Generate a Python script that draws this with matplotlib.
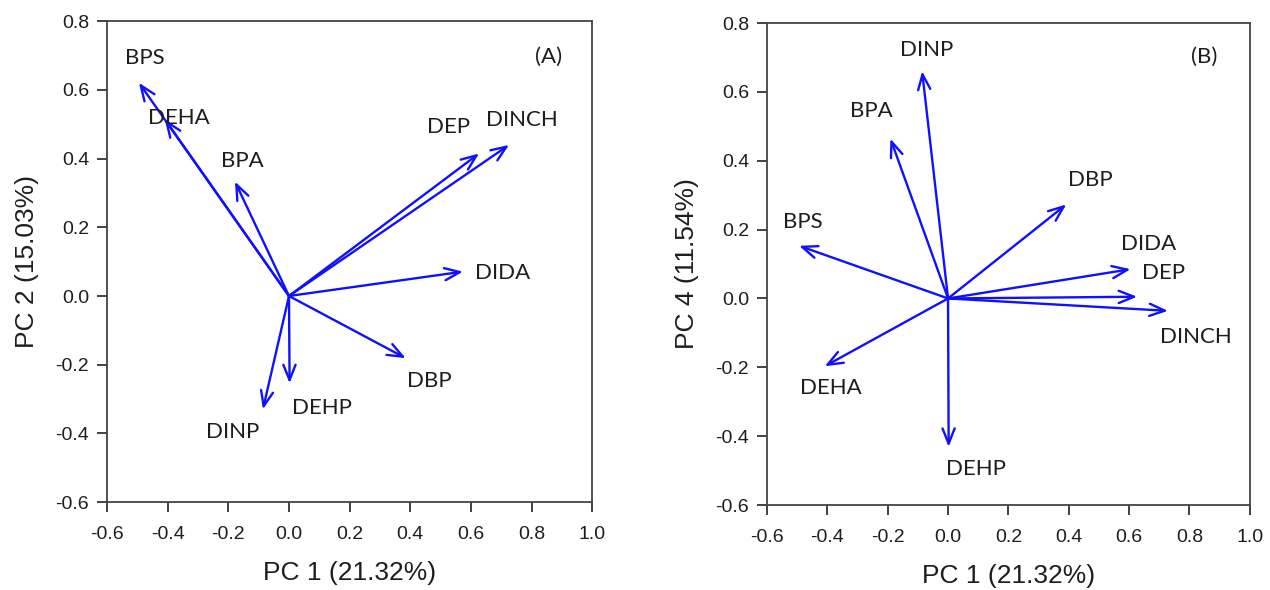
import matplotlib
matplotlib.use('Agg')
import matplotlib.pyplot as plt

# loadings
compounds_a = ['BPS', 'DEHA', 'BPA', 'DEP', 'DINCH', 'DIDA', 'DBP', 'DEHP', 'DINP']
pc1_a = [-0.495, -0.41, -0.178, 0.627, 0.726, 0.574, 0.385, 0.002, -0.086]
pc2_a = [0.621, 0.515, 0.333, 0.415, 0.44, 0.071, -0.181, -0.254, -0.330]

compounds_b = ['DINP', 'BPA', 'BPS', 'DBP', 'DIDA', 'DEP', 'DINCH', 'DEHA', 'DEHP']
pc1_b = [-0.086, -0.191, -0.494, 0.392, 0.605, 0.627, 0.729, -0.409, 0.002]
pc4_b = [0.660, 0.464, 0.153, 0.273, 0.085, 0.005, -0.036, -0.197, -0.431]

# where the names sit (data coords)
label_pos_a = {'BPS': (-0.476, 0.693), 'DEHA': (-0.363, 0.519), 'BPA': (-0.155, 0.394),
               'DEP': (0.527, 0.491), 'DINCH': (0.769, 0.512), 'DIDA': (0.703, 0.068),
               'DBP': (0.464, -0.247), 'DEHP': (0.109, -0.325), 'DINP': (-0.185, -0.397)}
label_pos_b = {'DINP': (-0.072, 0.723), 'BPA': (-0.254, 0.544), 'BPS': (-0.481, 0.221),
               'DBP': (0.470, 0.345), 'DIDA': (0.665, 0.158), 'DEP': (0.715, 0.073),
               'DINCH': (0.823, -0.113), 'DEHA': (-0.389, -0.261), 'DEHP': (0.094, -0.496)}

ticks_x = [-0.6, -0.4, -0.2, 0.0, 0.2, 0.4, 0.6, 0.8, 1.0]
ticks_y = [-0.6, -0.4, -0.2, 0.0, 0.2, 0.4, 0.6, 0.8]

ARROW = '#1010ff'
TEXT = '#1e1e1e'
LABEL_FONT = 'Lato'
TICK_FONT = 'Liberation Sans'


def biplot(ax, names, xs, ys, label_pos, tag, tag_pos, ylabel):
    for name, x, y in zip(names, xs, ys):
        ax.annotate('', xy=(x, y), xytext=(0, 0),
                    arrowprops=dict(arrowstyle='->,head_length=0.55,head_width=0.22',
                                    color=ARROW, lw=1.7, shrinkA=0, shrinkB=0,
                                    mutation_scale=20))
        lx, ly = label_pos[name]
        ax.text(lx, ly, name, ha='center', va='center', fontsize=16,
                family=LABEL_FONT, color=TEXT)
    ax.text(tag_pos[0], tag_pos[1], tag, ha='center', va='center', fontsize=16,
            family=LABEL_FONT, color=TEXT)

    ax.set_xlim(-0.6, 1.0)
    ax.set_ylim(-0.6, 0.8)
    ax.set_xticks(ticks_x)
    ax.set_yticks(ticks_y)
    ax.set_xticklabels(['%.1f' % t for t in ticks_x], family=TICK_FONT)
    ax.set_yticklabels(['%.1f' % t for t in ticks_y], family=TICK_FONT)
    ax.tick_params(direction='out', length=7, width=1.3, labelsize=14,
                   colors='#333333', labelcolor=TEXT)
    ax.tick_params(axis='x', pad=10)
    ax.tick_params(axis='y', pad=6)
    for sp in ax.spines.values():
        sp.set_color('#444444')
        sp.set_linewidth(1.3)
    ax.set_xlabel('PC 1 (21.32%)', fontsize=19, family=TICK_FONT, color=TEXT, labelpad=13)
    ax.set_ylabel(ylabel, fontsize=19, family=TICK_FONT, color=TEXT, labelpad=12)


fig = plt.figure(figsize=(12.7, 5.9), dpi=100)
ax1 = fig.add_axes([0.0843, 0.149, 0.382, 0.815])
ax2 = fig.add_axes([0.604, 0.144, 0.380, 0.817])

biplot(ax1, compounds_a, pc1_a, pc2_a, label_pos_a, '(A)', (0.857, 0.697), 'PC 2 (15.03%)')
biplot(ax2, compounds_b, pc1_b, pc4_b, label_pos_b, '(B)', (0.848, 0.701), 'PC 4 (11.54%)')

plt.savefig('out.png', dpi=100)
